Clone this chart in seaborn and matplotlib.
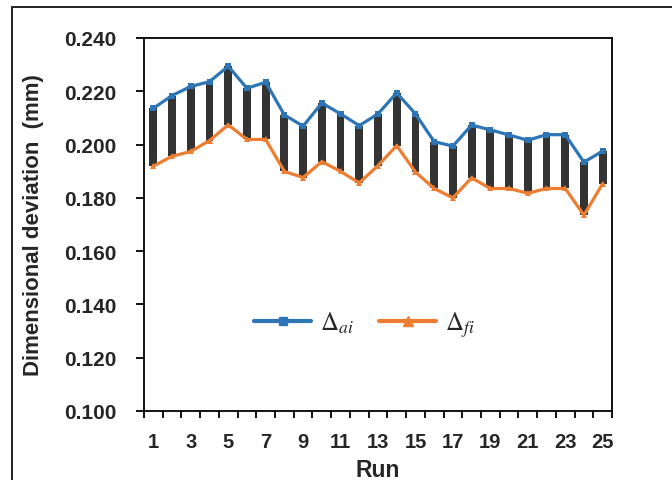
import numpy as np
import pandas as pd
import matplotlib
matplotlib.use("Agg")
import matplotlib.pyplot as plt
import seaborn as sns
from matplotlib.lines import Line2D

runs = list(range(1, 26))
delta_ai = [0.2136, 0.2184, 0.2218, 0.2236, 0.2294, 0.2211, 0.2234, 0.2111, 0.2069,
            0.2156, 0.2115, 0.2071, 0.2115, 0.2194, 0.2115, 0.2011, 0.1994, 0.2073,
            0.2055, 0.2036, 0.2016, 0.2037, 0.2037, 0.1934, 0.1975]
delta_fi = [0.1919, 0.1956, 0.1974, 0.2015, 0.2074, 0.2019, 0.2019, 0.1899, 0.1876,
            0.1936, 0.1899, 0.1856, 0.1921, 0.1996, 0.1897, 0.1835, 0.1800, 0.1875,
            0.1835, 0.1835, 0.1817, 0.1835, 0.1835, 0.1735, 0.1853]
y_ticks = [0.100, 0.120, 0.140, 0.160, 0.180, 0.200, 0.220, 0.240]
x_tick_labels = [1, 3, 5, 7, 9, 11, 13, 15, 17, 19, 21, 23, 25]

df = pd.DataFrame({"Run": runs, "ai": delta_ai, "fi": delta_fi})
df["gap"] = df["ai"] - df["fi"]

sns.set_theme(style="white")
plt.rcParams["font.family"] = ["Liberation Sans", "DejaVu Sans"]
plt.rcParams["mathtext.fontset"] = "stix"

BLUE = "#2E75B6"
ORANGE = "#ED7D31"
BAR = "#333333"

fig = plt.figure(figsize=(6.72, 4.81), dpi=100)
ax = fig.add_axes([0.2143, 0.1435, 0.6964, 0.7755])

# up/down bars spanning the two deviations
sns.barplot(data=df, x="Run", y="gap", bottom=df["fi"].to_numpy(), native_scale=True,
            width=0.42, color=BAR, saturation=1, linewidth=0, ax=ax)

sns.lineplot(data=df, x="Run", y="ai", color=BLUE, linewidth=2.3, marker="s",
             markersize=4, markeredgewidth=0, ax=ax)
sns.lineplot(data=df, x="Run", y="fi", color=ORANGE, linewidth=2.3, marker="^",
             markersize=4.5, markeredgewidth=0, ax=ax)

ax.set_xlim(0.5, 25.5)
ax.set_ylim(0.100, 0.240)
ax.set_yticks(y_ticks)
ax.set_yticklabels([f"{v:.3f}" for v in y_ticks], fontsize=15, fontweight="bold")
ax.set_xticks(x_tick_labels)
ax.set_xticklabels([str(v) for v in x_tick_labels], fontsize=14.5, fontweight="bold")
ax.set_xticks(np.arange(0.5, 26.0, 1.0), minor=True)
ax.tick_params(axis="x", which="major", length=0, pad=15)
ax.tick_params(axis="x", which="minor", length=5, width=1.3, direction="out",
               color="black", bottom=True)
ax.tick_params(axis="y", which="major", length=6, width=1.3, direction="out",
               color="black", left=True, pad=14)

ax.set_xlabel("Run", fontsize=16.5, fontweight="bold", labelpad=5)
ax.set_ylabel("Dimensional deviation  (mm)", fontsize=16, fontweight="bold", labelpad=14)

for side in ["left", "right", "top", "bottom"]:
    ax.spines[side].set_visible(True)
    ax.spines[side].set_color("black")
    ax.spines[side].set_linewidth(1.3)

handles = [
    Line2D([0], [0], color=BLUE, linewidth=3, marker="s", markersize=6),
    Line2D([0], [0], color=ORANGE, linewidth=3, marker="^", markersize=6.5),
]
ax.legend(handles, [r"$\Delta_{ai}$", r"$\Delta_{fi}$"],
          loc="center", bbox_to_anchor=(0.471, 0.232), ncol=2, frameon=False,
          fontsize=18, handlelength=2.3, columnspacing=1.0, handletextpad=0.35)

# outer frame lines
fig.add_artist(Line2D([12 / 672, 12 / 672], [0, 1 - 8 / 481], transform=fig.transFigure,
                      color="#222222", linewidth=1.4))
fig.add_artist(Line2D([12 / 672, 1], [1 - 8 / 481, 1 - 8 / 481], transform=fig.transFigure,
                      color="#222222", linewidth=1.4))

fig.savefig("out.png", dpi=100)
